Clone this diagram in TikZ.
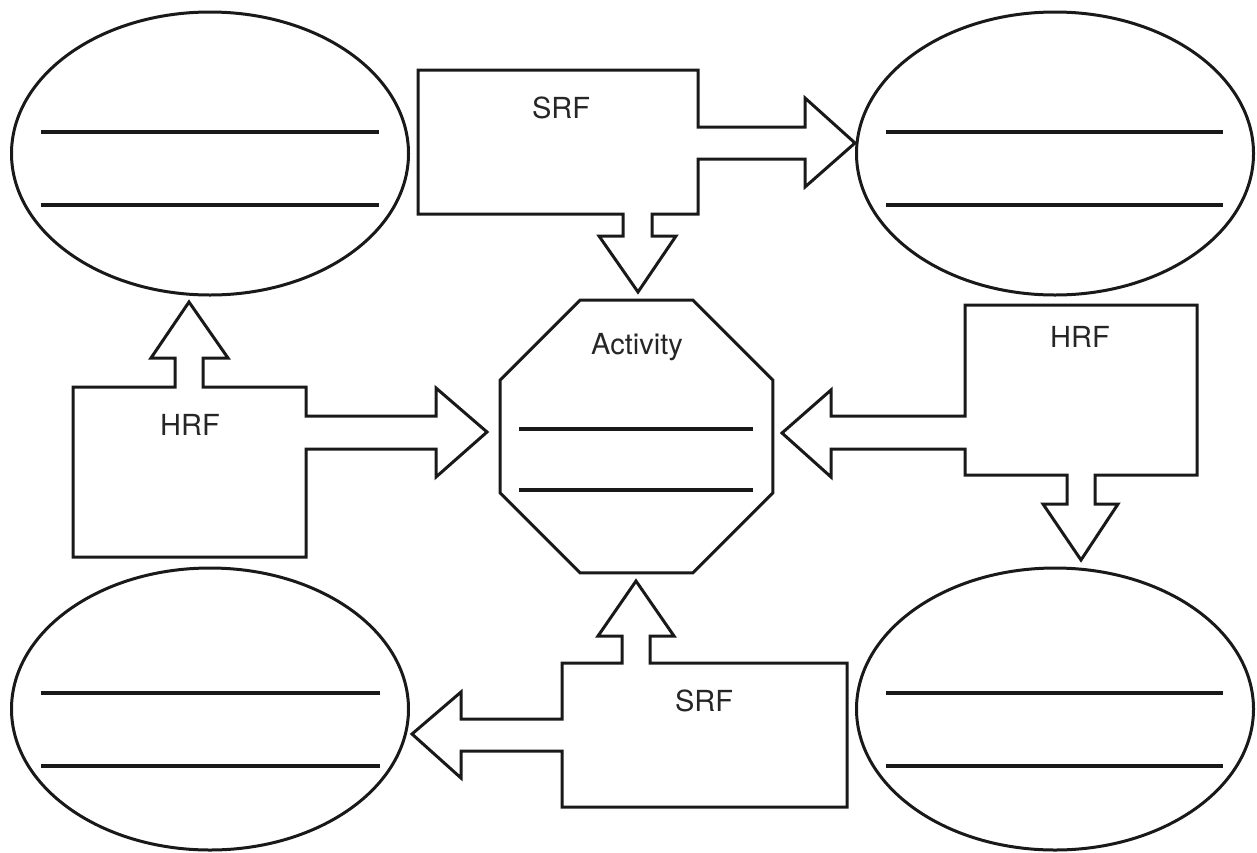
\documentclass[tikz,border=0pt]{standalone}
\usepackage{fontspec}
\setmainfont{TeX Gyre Heros}
\usetikzlibrary{shapes.geometric}
\begin{document}
\begin{tikzpicture}[x=1pt,y=-1pt,
  outline/.style={draw=black!90,line width=3pt,line join=miter},
  oval/.style={outline,ellipse,inner sep=0pt,minimum width=397pt,minimum height=283pt},
  blank/.style={draw=black!90,line width=3.2pt},
  lbl/.style={font=\fontsize{29}{34}\selectfont,text=black!85,inner sep=0pt}]
\useasboundingbox (0,0) rectangle (1257,852);
% ellipses
\node[oval] (tl) at (210,153.5) {};
\node[oval] (tr) at (1055,153.5) {};
\node[oval,minimum height=282pt] (bl) at (210,709) {};
\node[oval,minimum height=282pt] (br) at (1055,709) {};
\draw[blank] (41,132) -- (379,132);
\draw[blank] (41,205) -- (379,205);
\draw[blank] (886,132) -- (1223,132);
\draw[blank] (886,205) -- (1223,205);
\draw[blank] (41,693) -- (380,693);
\draw[blank] (41,766) -- (380,766);
\draw[blank] (886,693) -- (1223,693);
\draw[blank] (886,766) -- (1223,766);
% octagon
\node[outline,regular polygon,regular polygon sides=8,inner sep=0pt,minimum size=295pt] (act) at (636.5,436.5) {};
\node[lbl] (actl) at (637,347) {Activity};
\draw[blank] (519,429) -- (753,429);
\draw[blank] (519,490) -- (753,490);
% top SRF
\draw[outline] (418,70) -- (698,70) -- (698,127) -- (805,127) -- (805,98) -- (855,143) -- (805,187) -- (805,159) -- (698,159) -- (698,214) -- (652,214) -- (652,236) -- (676,236) -- (638,292) -- (599,236) -- (623,236) -- (623,214) -- (418,214) -- cycle;
\node[lbl] (srf1) at (561,108) {SRF};
% left HRF
\draw[outline] (73,387) -- (175,387) -- (175,358) -- (151,358) -- (189,302) -- (228,358) -- (203,358) -- (203,387) -- (306,387) -- (306,416) -- (436,416) -- (436,388) -- (487,432) -- (436,477) -- (436,449) -- (306,449) -- (306,557) -- (73,557) -- cycle;
\node[lbl] (hrf1) at (190,425) {HRF};
% right HRF
\draw[outline] (965,305) -- (1197,305) -- (1197,475) -- (1095,475) -- (1095,504) -- (1118,504) -- (1081,560) -- (1043,504) -- (1067,504) -- (1067,475) -- (965,475) -- (965,449) -- (831,449) -- (831,477) -- (782,433) -- (831,390) -- (831,416) -- (965,416) -- cycle;
\node[lbl] (hrf2) at (1080,337) {HRF};
% bottom SRF
\draw[outline] (562,663) -- (622,663) -- (622,636) -- (598,636) -- (636,581) -- (674,636) -- (650,636) -- (650,663) -- (847,663) -- (847,807) -- (562,807) -- (562,751) -- (461,751) -- (461,778) -- (412,734) -- (461,692) -- (461,719) -- (562,719) -- cycle;
\node[lbl] (srf2) at (704,701) {SRF};
\end{tikzpicture}
\end{document}
